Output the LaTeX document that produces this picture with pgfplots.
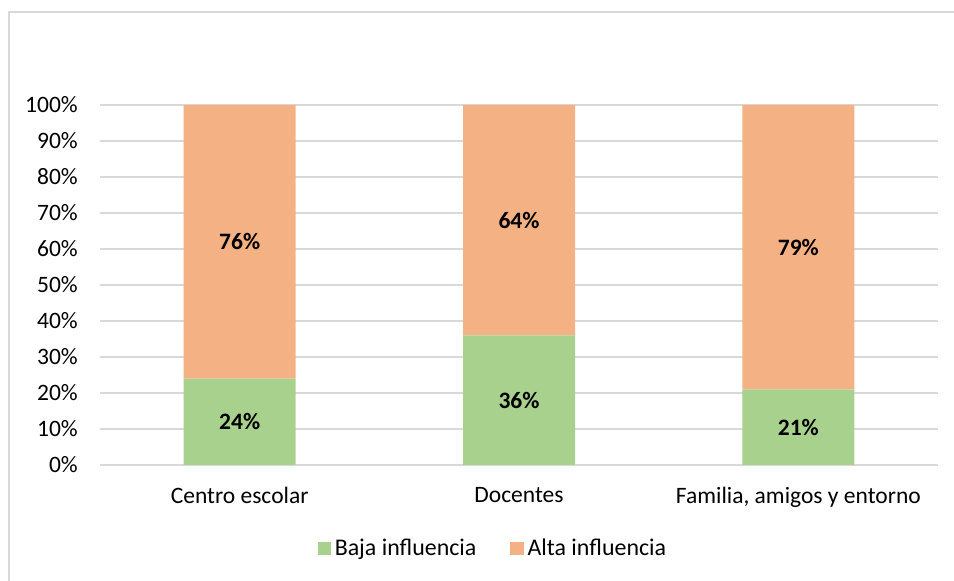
\documentclass[border=0pt]{standalone}
\usepackage{fontspec}
\setmainfont{Carlito}
\usepackage{pgfplots}
\usepackage{pgfplotstable}
\pgfplotsset{compat=1.18}
\definecolor{cgreen}{HTML}{A9D18E}
\definecolor{corange}{HTML}{F4B183}
\definecolor{cgrid}{HTML}{D9D9D9}
\pgfplotstableread{
x low high
0 24 76
1 36 64
2 21 79
}\datatable
\begin{document}
\fontsize{11.8pt}{14pt}\selectfont
\begin{tikzpicture}
\useasboundingbox (0bp,0bp) rectangle (477bp,290.5bp);
\draw[cgrid, line width=1bp] (4.5bp,0bp) -- (4.5bp,284.5bp) -- (477bp,284.5bp);
\begin{axis}[
  at={(50bp,58bp)}, anchor=south west,
  scale only axis, width=419bp, height=180bp,
  ybar stacked, bar width=56bp,
  xmin=-0.5, xmax=2.5, ymin=0, ymax=100,
  xtick={0,1,2},
  xticklabels={Centro escolar, Docentes, {Familia, amigos y entorno}},
  ytick={0,10,...,100},
  yticklabel={\pgfmathprintnumber{\tick}\%},
  /pgf/number format/assume math mode=true,
  major tick length=0pt,
  axis line style={draw=none},
  ymajorgrids, grid style={cgrid, line width=1bp},
  tick label style={font=\fontsize{11.8pt}{14pt}\selectfont, text=black},
  yticklabel style={xshift=-7bp},
  xticklabel style={yshift=-7bp},
  legend style={draw=none, at={(0.47,-0.233)}, anchor=center, legend columns=2,
    font=\fontsize{12pt}{14pt}\selectfont,
    /tikz/every even column/.append style={column sep=15bp}},
  legend image code/.code={\fill[#1] (0bp,-3.3bp) rectangle (6.6bp,3.3bp);},
]
\addplot[fill=cgreen, draw=none] table[x=x, y=low] {\datatable};
\addlegendentry{Baja influencia}
\addplot[fill=corange, draw=none] table[x=x, y=high] {\datatable};
\addlegendentry{Alta influencia}
\end{axis}
\begin{axis}[
  at={(50bp,58bp)}, anchor=south west,
  scale only axis, width=419bp, height=180bp,
  xmin=-0.5, xmax=2.5, ymin=0, ymax=100,
  hide axis,
  /pgf/number format/assume math mode=true,
  nodes near coords={\pgfmathprintnumber{\pgfplotspointmeta}\%},
  every node near coord/.append style={font=\fontsize{11.8pt}{14pt}\selectfont\bfseries, text=black, anchor=center},
]
\addplot[draw=none, mark=none, point meta=\thisrow{low}] table[x=x, y expr=\thisrow{low}/2] {\datatable};
\addplot[draw=none, mark=none, point meta=\thisrow{high}] table[x=x, y expr=\thisrow{low}+\thisrow{high}/2] {\datatable};
\end{axis}
\end{tikzpicture}
\end{document}
